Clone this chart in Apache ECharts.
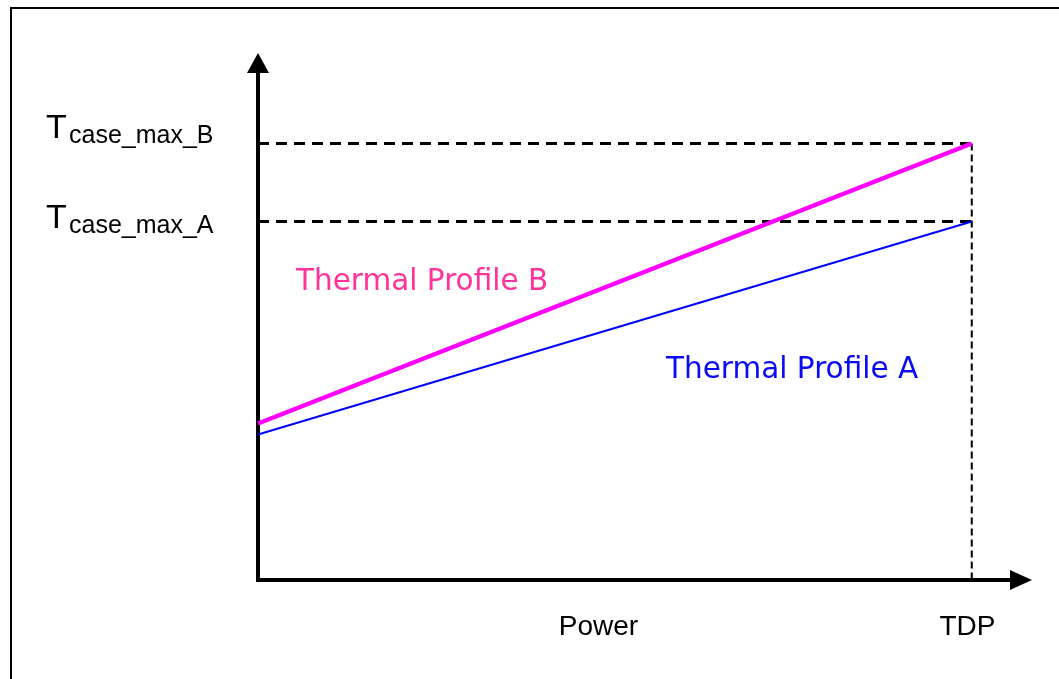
<!DOCTYPE html>
<html>
<head>
<meta charset="utf-8">
<script src="https://cdn.jsdelivr.net/npm/echarts@6/dist/echarts.min.js"></script>
<style>
html, body { margin: 0; padding: 0; background: #fff; }
#chart { width: 1059px; height: 679px; }
</style>
</head>
<body>
<div id="chart"></div>
<script>
// ---- data (conceptual units; no numeric ticks in the original) ----
const xRange = [0, 106.9];          // power axis extent
const yRange = [0, 100];            // temperature axis extent
const tdp = 100;                    // TDP position on power axis
const tcaseMaxB = 84.43;
const tcaseMaxA = 69.34;
const profileBPower = [0, 100];
const profileBTemp = [30.27, 84.43];
const profileAPower = [0, 100];
const profileATemp = [28.14, 69.34];
const axisTexts = { power: 'Power', tdp: 'TDP' };
const seriesNames = ['Thermal Profile B', 'Thermal Profile A'];

const zip = (xs, ys) => xs.map((x, i) => [x, ys[i]]);

const chart = echarts.init(document.getElementById('chart'), null, { renderer: 'canvas' });

const axisLineStyle = { color: '#000', width: 4, cap: 'square' };

chart.setOption({
  animation: false,
  backgroundColor: '#fff',
  grid: { left: 258, right: 38, top: 63, bottom: 99 },
  xAxis: {
    type: 'value', min: xRange[0], max: xRange[1],
    axisLine: { show: true, lineStyle: axisLineStyle, symbol: ['none', 'triangle'], symbolSize: [20, 22] },
    axisTick: { show: false }, axisLabel: { show: false }, splitLine: { show: false }
  },
  yAxis: {
    type: 'value', min: yRange[0], max: yRange[1],
    axisLine: { show: true, lineStyle: axisLineStyle, symbol: ['none', 'triangle'], symbolSize: [22, 20] },
    axisTick: { show: false }, axisLabel: { show: false }, splitLine: { show: false }
  },
  series: [
    {
      name: 'Tcase_max_B', type: 'line', silent: true, symbol: 'none',
      data: [[xRange[0], tcaseMaxB], [tdp, tcaseMaxB]],
      lineStyle: { color: '#000', width: 3, type: [11, 7] }
    },
    {
      name: 'Tcase_max_A', type: 'line', silent: true, symbol: 'none',
      data: [[xRange[0], tcaseMaxA], [tdp, tcaseMaxA]],
      lineStyle: { color: '#000', width: 3, type: [11, 7] }
    },
    {
      name: 'TDP', type: 'line', silent: true, symbol: 'none',
      data: [[tdp, tcaseMaxB], [tdp, yRange[0]]],
      lineStyle: { color: '#000', width: 2, type: [7, 4] }
    },
    {
      name: seriesNames[1], type: 'line', silent: true, symbol: 'none',
      data: zip(profileAPower, profileATemp),
      lineStyle: { color: '#0000FF', width: 2 }
    },
    {
      name: seriesNames[0], type: 'line', silent: true, symbol: 'none',
      data: zip(profileBPower, profileBTemp),
      lineStyle: { color: '#FF00FF', width: 4.5 }
    }
  ],
  graphic: [
    {
      type: 'rect', silent: true, z: 0,
      shape: { x: 11, y: 8, width: 1200, height: 1000 },
      style: { fill: null, stroke: '#000', lineWidth: 2 }
    },
    // Tcase_max_B
    { type: 'text', x: 46, y: 128.5, style: { text: 'T', font: '34px "Liberation Sans", Arial, sans-serif', fill: '#000', verticalAlign: 'middle' } },
    { type: 'text', x: 69, y: 136.5, style: { text: 'case_max_B', font: '25px "Liberation Sans", Arial, sans-serif', fill: '#000', verticalAlign: 'middle' } },
    // Tcase_max_A
    { type: 'text', x: 46, y: 218.5, style: { text: 'T', font: '34px "Liberation Sans", Arial, sans-serif', fill: '#000', verticalAlign: 'middle' } },
    { type: 'text', x: 69, y: 226, style: { text: 'case_max_A', font: '25px "Liberation Sans", Arial, sans-serif', fill: '#000', verticalAlign: 'middle' } },
    // profile labels
    { type: 'text', x: 296, y: 282, style: { text: seriesNames[0], font: '29.5px "DejaVu Sans", Verdana, sans-serif', fill: '#FF3399', verticalAlign: 'middle' } },
    { type: 'text', x: 666, y: 370, style: { text: seriesNames[1], font: '29.5px "DejaVu Sans", Verdana, sans-serif', fill: '#0A0AF5', verticalAlign: 'middle' } },
    // axis texts
    { type: 'text', x: 598.5, y: 627.3, style: { text: axisTexts.power, font: '28px "Liberation Sans", Arial, sans-serif', fill: '#000', align: 'center', verticalAlign: 'middle' } },
    { type: 'text', x: 967.5, y: 627.3, style: { text: axisTexts.tdp, font: '28px "Liberation Sans", Arial, sans-serif', fill: '#000', align: 'center', verticalAlign: 'middle' } }
  ]
});
</script>
</body>
</html>
